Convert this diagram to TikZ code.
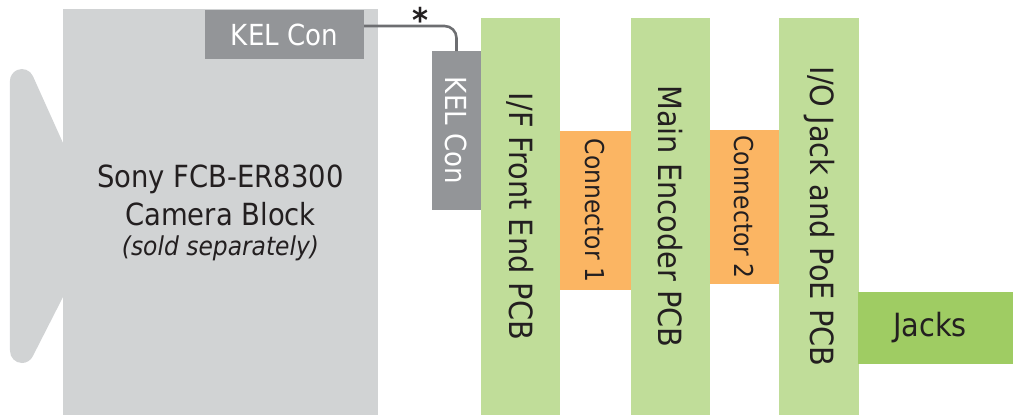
\documentclass[tikz,border=0pt]{standalone}
\usepackage{fontspec}
\setmainfont{DejaVu Sans}[FakeStretch=0.9]
\usetikzlibrary{calc}
\definecolor{camgray}{HTML}{D1D3D4}
\definecolor{kelgray}{HTML}{939598}
\definecolor{wiregray}{HTML}{6D6E71}
\definecolor{pcbgreen}{HTML}{C0DD99}
\definecolor{conorange}{HTML}{FBB563}
\definecolor{jackgreen}{HTML}{9FCC63}
\definecolor{ink}{HTML}{231F20}
\begin{document}
\begin{tikzpicture}[x=1pt,y=-1pt,
  blk/.style={draw=none, inner sep=0pt, outer sep=0pt, text=ink},
  cambody/.style={blk, fill=camgray},
  kelbox/.style={blk, fill=kelgray, text=white, font=\fontsize{29}{34}\selectfont},
  pcbbar/.style={blk, fill=pcbgreen, rotate=-90, minimum width=397pt, font=\fontsize{32}{38}\selectfont},
  conbox/.style={blk, fill=conorange, rotate=-90, font=\fontsize{26}{31}\selectfont},
  jackbox/.style={blk, fill=jackgreen, font=\fontsize{32}{38}\selectfont},
  camtext/.style={inner sep=0pt, text=ink, anchor=base, font=\fontsize{30.5}{36}\selectfont},
  wire/.style={draw=wiregray, line width=2.6pt, rounded corners=12pt},
  starmark/.style={inner sep=0pt, anchor=north, text=ink, font=\fontsize{34}{38}\selectfont\bfseries}
]
\useasboundingbox (0,0) rectangle (1013,415);

% camera lens wing
\fill[camgray] (63,143) -- (32.9,76.1) arc[start angle=-24.2, end angle=-180, radius=12]
  -- (10,351) arc[start angle=180, end angle=27, radius=12]
  -- (63,297) -- (75,297) -- (75,143) -- cycle;

% camera body
\node[cambody, minimum width=315pt, minimum height=406pt] (cam) at (220.5,212) {};
\node[camtext] (camline1) at (220.5,187) {Sony FCB-ER8300};
\node[camtext] (camline2) at (220.5,225) {Camera Block};
\node[camtext, font=\fontsize{26}{31}\selectfont\itshape] (camline3) at (220.5,255) {(sold separately)};

% KEL connectors
\node[kelbox, minimum width=159pt, minimum height=49pt] (kelh) at (284.5,34.5) {KEL Con};
\node[kelbox, rotate=-90, minimum width=159pt, minimum height=49pt] (kelv) at (456.5,130.5) {KEL Con};

% cable
\draw[wire] ([yshift=8.5pt]kelh.east) -| (kelv.west);
\node[starmark] (star) at (420,7) {*};

% board-to-board connectors
\node[conbox, minimum width=159pt, minimum height=72pt] (con1) at (595,210.5) {Connector 1};
\node[conbox, minimum width=154pt, minimum height=70pt] (con2) at (744,207) {Connector 2};

% PCBs
\node[pcbbar, minimum height=79pt] (ifpcb) at (520.5,216.5) {I/F Front End PCB};
\node[pcbbar, minimum height=79pt] (mainpcb) at (670.5,216.5) {Main Encoder PCB};
\node[pcbbar, minimum height=80pt] (iopcb) at (819,216.5) {I/O Jack and PoE PCB};

% jacks
\node[jackbox, minimum width=155pt, minimum height=72pt] (jacks) at (935.5,328) {\hspace*{-11pt}Jacks};
\end{tikzpicture}
\end{document}
